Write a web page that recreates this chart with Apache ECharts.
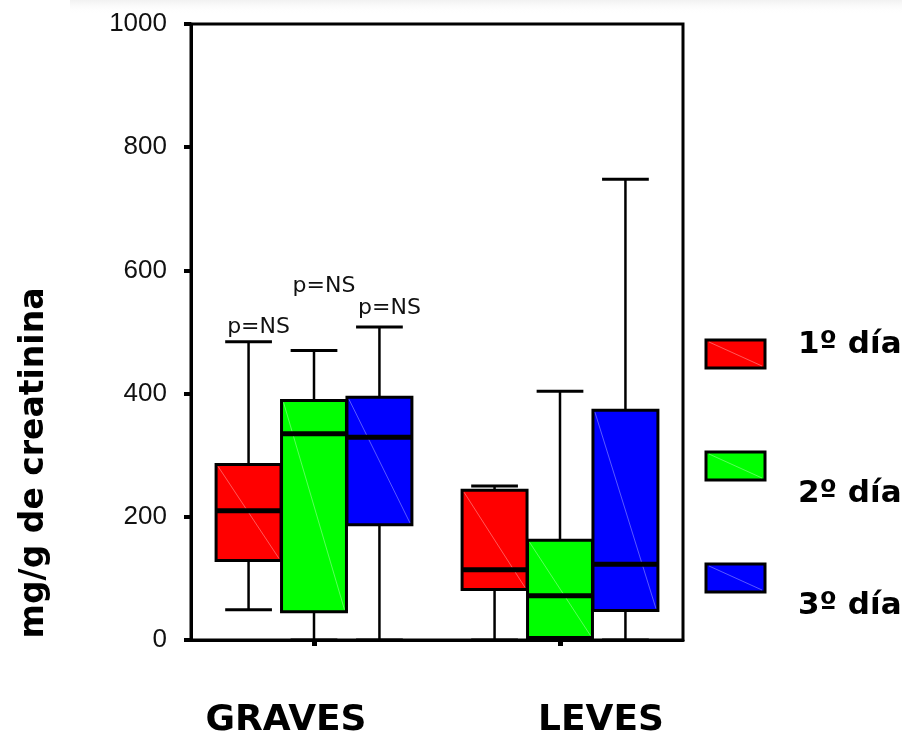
<!DOCTYPE html>
<html>
<head>
<meta charset="utf-8">
<script src="https://cdn.jsdelivr.net/npm/echarts@6/dist/echarts.min.js"></script>
<style>
html,body{margin:0;padding:0;background:#ffffff;}
#chart{width:902px;height:738px;}
</style>
</head>
<body>
<div id="chart"></div>
<script>
// ---------------- data ----------------
const categories = ['GRAVES', 'LEVES'];
const seriesNames = ['1º día', '2º día', '3º día'];
const seriesColors = ['#ff0000', '#00ff00', '#0000ff'];
// each row: [min, Q1, median, Q3, max] for GRAVES, LEVES
const dia1 = [[49, 129, 210, 285, 484], [0, 82, 114, 243, 250]];
const dia2 = [[0, 46, 335, 389, 470], [0, 4, 72, 162, 404]];
const dia3 = [[0, 187, 329, 394, 508], [0, 48, 123, 373, 748]];
const yTickValues = [0, 200, 400, 600, 800, 1000];
const yAxisTitle = 'mg/g de creatinina';
const pLabel = 'p=NS';
const pLabelValues = [508, 574, 538]; // y position (data units) of the p=NS notes over GRAVES

// ---------------- layout ----------------
const allSeries = [dia1, dia2, dia3];
const OFFSETS = [-0.266, 0, 0.266];
const BOX_FRAC = 0.264;
const CAP_FRAC = 0.19;

function makeRender(si) {
  return function (params, api) {
    const ci = api.value(0);
    const band = api.size([1, 0])[0];
    const cx = api.coord([ci, 0])[0] + OFFSETS[si] * band;
    const yv = i => api.coord([ci, api.value(i)])[1];
    const yMin = yv(1), yQ1 = yv(2), yMed = yv(3), yQ3 = yv(4), yMax = yv(5);
    const hw = BOX_FRAC * band / 2, cw = CAP_FRAC * band / 2;
    const wl = {stroke: '#000', lineWidth: 2.5};
    const children = [
      {type: 'line', shape: {x1: cx, y1: yQ3, x2: cx, y2: yMax}, style: wl},
      {type: 'line', shape: {x1: cx, y1: yQ1, x2: cx, y2: yMin}, style: wl},
      {type: 'line', shape: {x1: cx - cw, y1: yMax, x2: cx + cw, y2: yMax}, style: {stroke: '#000', lineWidth: 3}},
      {type: 'line', shape: {x1: cx - cw, y1: yMin, x2: cx + cw, y2: yMin}, style: {stroke: '#000', lineWidth: 3}},
      {type: 'rect', shape: {x: cx - hw, y: yQ3, width: 2 * hw, height: yQ1 - yQ3},
        style: {fill: seriesColors[si], stroke: '#000', lineWidth: 3}},
      {type: 'line', shape: {x1: cx - hw + 2, y1: yQ3 + 2, x2: cx + hw - 2, y2: yQ1 - 2},
        style: {stroke: 'rgba(255,255,255,0.35)', lineWidth: 1}},
      {type: 'line', shape: {x1: cx - hw, y1: yMed, x2: cx + hw, y2: yMed}, style: {stroke: '#000', lineWidth: 5}}
    ];
    if (ci === 0) {
      children.push({
        type: 'text',
        x: cx + 10,
        y: api.coord([ci, pLabelValues[si]])[1],
        style: {text: pLabel, font: '22px "DejaVu Sans"', fill: '#111', align: 'center', verticalAlign: 'middle'}
      });
    }
    return {type: 'group', children: children};
  };
}

const series = allSeries.map((rows, si) => ({
  type: 'custom',
  name: seriesNames[si],
  renderItem: makeRender(si),
  encode: {x: 0, y: [1, 2, 3, 4, 5]},
  clip: false,
  z: 3,
  data: rows.map((r, ci) => [ci].concat(r))
}));

// legend + texts as graphic elements
const legendTop = [340, 452, 564];
const legendTextY = [345, 494, 606];
const graphic = [
  {type: 'rect', left: 70, top: 0, shape: {width: 832, height: 14}, z: -1,
    style: {fill: new echarts.graphic.LinearGradient(0, 0, 0, 1, [
      {offset: 0, color: 'rgba(238,238,238,0.8)'}, {offset: 1, color: 'rgba(255,255,255,0)'}])}},
  {type: 'text', x: 34, y: 463, rotation: Math.PI / 2,
    style: {text: yAxisTitle, font: 'bold 33px "DejaVu Sans"', fill: '#000', align: 'center', verticalAlign: 'middle'}},
  {type: 'text', x: 286, y: 721,
    style: {text: categories[0], font: 'bold 36px "DejaVu Sans"', fill: '#000', align: 'center', verticalAlign: 'middle'}},
  {type: 'text', x: 601, y: 721,
    style: {text: categories[1], font: 'bold 36px "DejaVu Sans"', fill: '#000', align: 'center', verticalAlign: 'middle'}}
];
seriesNames.forEach((n, i) => {
  graphic.push({type: 'rect', shape: {x: 706, y: legendTop[i], width: 59, height: 28},
    style: {fill: seriesColors[i], stroke: '#000', lineWidth: 3}});
  graphic.push({type: 'line', shape: {x1: 709, y1: legendTop[i] + 2, x2: 762, y2: legendTop[i] + 26},
    style: {stroke: 'rgba(255,255,255,0.35)', lineWidth: 1}});
  graphic.push({type: 'text', x: 798, y: legendTextY[i],
    style: {text: n, font: 'bold 31px "DejaVu Sans"', fill: '#000', align: 'left', verticalAlign: 'middle'}});
});

const chart = echarts.init(document.getElementById('chart'), null, {renderer: 'canvas'});
chart.setOption({
  backgroundColor: '#ffffff',
  animation: false,
  grid: {left: 191, right: 219, top: 24, bottom: 98, containLabel: false, outerBoundsMode: 'none',
    show: true, borderColor: '#000', borderWidth: 3, backgroundColor: 'transparent'},
  xAxis: {
    type: 'category',
    data: categories,
    boundaryGap: true,
    axisLine: {show: true, lineStyle: {color: '#000', width: 3}},
    axisTick: {show: true, alignWithLabel: true, length: 6, lineStyle: {color: '#000', width: 5}},
    axisLabel: {show: false},
    splitLine: {show: false}
  },
  yAxis: {
    type: 'value',
    min: yTickValues[0],
    max: yTickValues[yTickValues.length - 1],
    interval: yTickValues[1] - yTickValues[0],
    axisLine: {show: true, lineStyle: {color: '#000', width: 3}},
    axisTick: {show: true, length: 7, lineStyle: {color: '#000', width: 4}},
    axisLabel: {show: true, margin: 24, fontSize: 26, fontFamily: '"Liberation Sans", Arial, sans-serif', color: '#111',
      formatter: v => String(v)},
    splitLine: {show: false}
  },
  tooltip: {show: false},
  legend: {show: false},
  graphic: graphic,
  series: series
});
</script>
</body>
</html>
